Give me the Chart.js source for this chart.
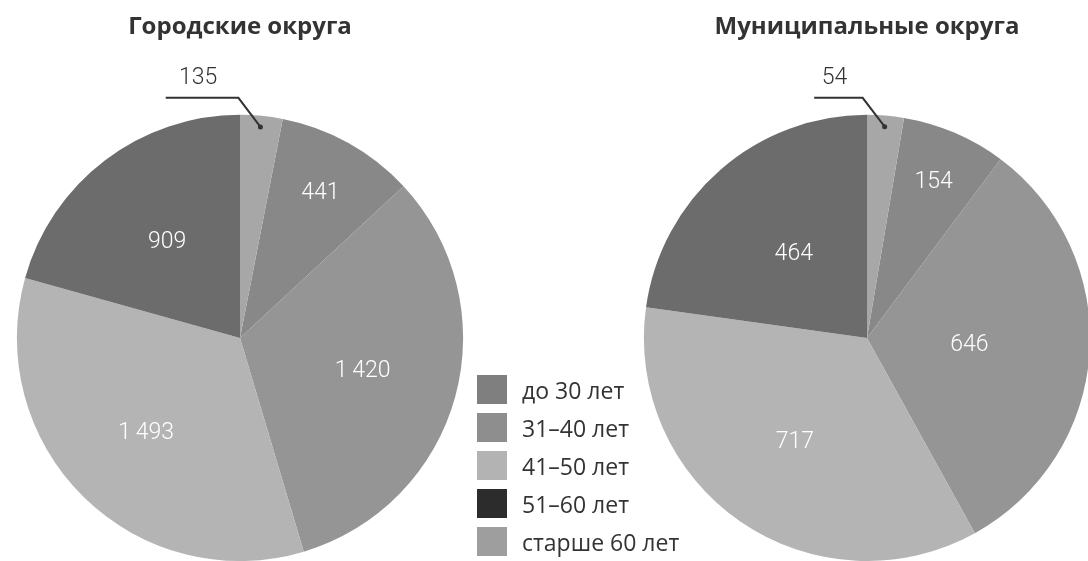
<!DOCTYPE html>
<html lang="ru">
<head>
<meta charset="utf-8">
<title>Городские и муниципальные округа</title>
<script src="https://cdn.jsdelivr.net/npm/chart.js@4.4.1/dist/chart.umd.min.js"></script>
<style>
  html, body { margin: 0; padding: 0; background: #fff; }
  body { width: 1088px; height: 561px; overflow: hidden; position: relative; font-family: 'Open Sans', sans-serif; }
  .pie { position: absolute; top: 0; }
  #legend { position: absolute; left: 477px; top: 375px; margin: 0; padding: 0; list-style: none; }
  #legend li { display: flex; align-items: center; height: 29px; margin-bottom: 9px; font-size: 23px; color: #333; }
  #legend span { display: inline-block; width: 30px; height: 29px; margin-right: 15px; }
</style>
</head>
<body>
<canvas id="cityChart" class="pie" width="480" height="561" style="left:0"></canvas>
<canvas id="municipalChart" class="pie" width="480" height="561" style="left:627px"></canvas>
<ul id="legend"></ul>

<script>
// ---- data ----
const ageGroups = ['до 30 лет', '31–40 лет', '41–50 лет', '51–60 лет', 'старше 60 лет'];
const cityValues = [441, 1420, 1493, 909, 135];
const municipalValues = [154, 646, 717, 464, 54];

// greys as they look in the scan
const sliceColors = ['#888888', '#959595', '#b4b4b4', '#6c6c6c', '#a7a7a7'];
const legendColors = ['#7f7f7f', '#8e8e8e', '#b3b3b3', '#2c2c2c', '#9e9e9e'];

// numbers like "1 420" with a thin space
function fmtNum(v) {
  return v >= 1000 ? Math.floor(v / 1000) + '\u2009' + String(v % 1000).padStart(3, '0') : String(v);
}

// the last slice (старше 60) starts at 12 o'clock, so rotate by its share
function rotationFor(values) {
  const total = values.reduce((a, b) => a + b, 0);
  return values[values.length - 1] / total * 360;
}

// draws values inside slices, and the small one outside with a leader line
const sliceLabels = {
  id: 'sliceLabels',
  afterDatasetsDraw(chart, args, opts) {
    const ctx = chart.ctx;
    const meta = chart.getDatasetMeta(0);
    const values = chart.data.datasets[0].data;
    ctx.save();
    ctx.font = '300 23px Roboto';
    ctx.textAlign = 'center';
    ctx.textBaseline = 'middle';
    meta.data.forEach((arc, i) => {
      const p = arc.getProps(['x', 'y', 'startAngle', 'endAngle', 'outerRadius'], true);
      const mid = (p.startAngle + p.endAngle) / 2;
      const text = fmtNum(values[i]);
      if (i === values.length - 1) {
        const dx = p.x + Math.cos(mid) * p.outerRadius * 0.95;
        const dy = p.y + Math.sin(mid) * p.outerRadius * 0.95;
        const ex = dx - 22;
        const ey = p.y - p.outerRadius - 17;
        const len = ctx.measureText(text).width * 1.9;
        ctx.strokeStyle = '#333';
        ctx.lineWidth = 2;
        ctx.beginPath();
        ctx.moveTo(dx, dy);
        ctx.lineTo(ex, ey);
        ctx.lineTo(ex - len, ey);
        ctx.stroke();
        ctx.fillStyle = '#333';
        ctx.beginPath();
        ctx.arc(dx, dy, 2.5, 0, Math.PI * 2);
        ctx.fill();
        ctx.fillText(text, ex - len / 2 - 4, ey - 20);
      } else {
        const r = p.outerRadius * opts.radius[i];
        ctx.fillStyle = '#fff';
        ctx.fillText(text, p.x + Math.cos(mid) * r, p.y + Math.sin(mid) * r);
      }
    });
    ctx.restore();
  }
};

function makePie(canvasId, title, values, labelRadius) {
  return new Chart(document.getElementById(canvasId), {
    type: 'pie',
    data: {
      labels: ageGroups,
      datasets: [{ data: values, backgroundColor: sliceColors, borderWidth: 0, hoverOffset: 0 }]
    },
    options: {
      responsive: false,
      animation: false,
      rotation: rotationFor(values),
      layout: { padding: 0 },
      events: [],
      plugins: {
        legend: { display: false },
        tooltip: { enabled: false },
        title: {
          display: true,
          text: title,
          color: '#333',
          font: { family: 'Open Sans', size: 24, weight: '700', lineHeight: 1.2 },
          padding: { top: 13, bottom: 73 }
        },
        sliceLabels: { radius: labelRadius }
      }
    },
    plugins: [sliceLabels]
  });
}

makePie('cityChart', 'Городские округа', cityValues, [0.74, 0.57, 0.6, 0.54]);
makePie('municipalChart', 'Муниципальные округа', municipalValues, [0.76, 0.46, 0.57, 0.5]);

// legend under the gap between the pies
const legendEl = document.getElementById('legend');
ageGroups.forEach((g, i) => {
  const li = document.createElement('li');
  li.innerHTML = '<span style="background:' + legendColors[i] + '"></span>' + g;
  legendEl.appendChild(li);
});
</script>
</body>
</html>
